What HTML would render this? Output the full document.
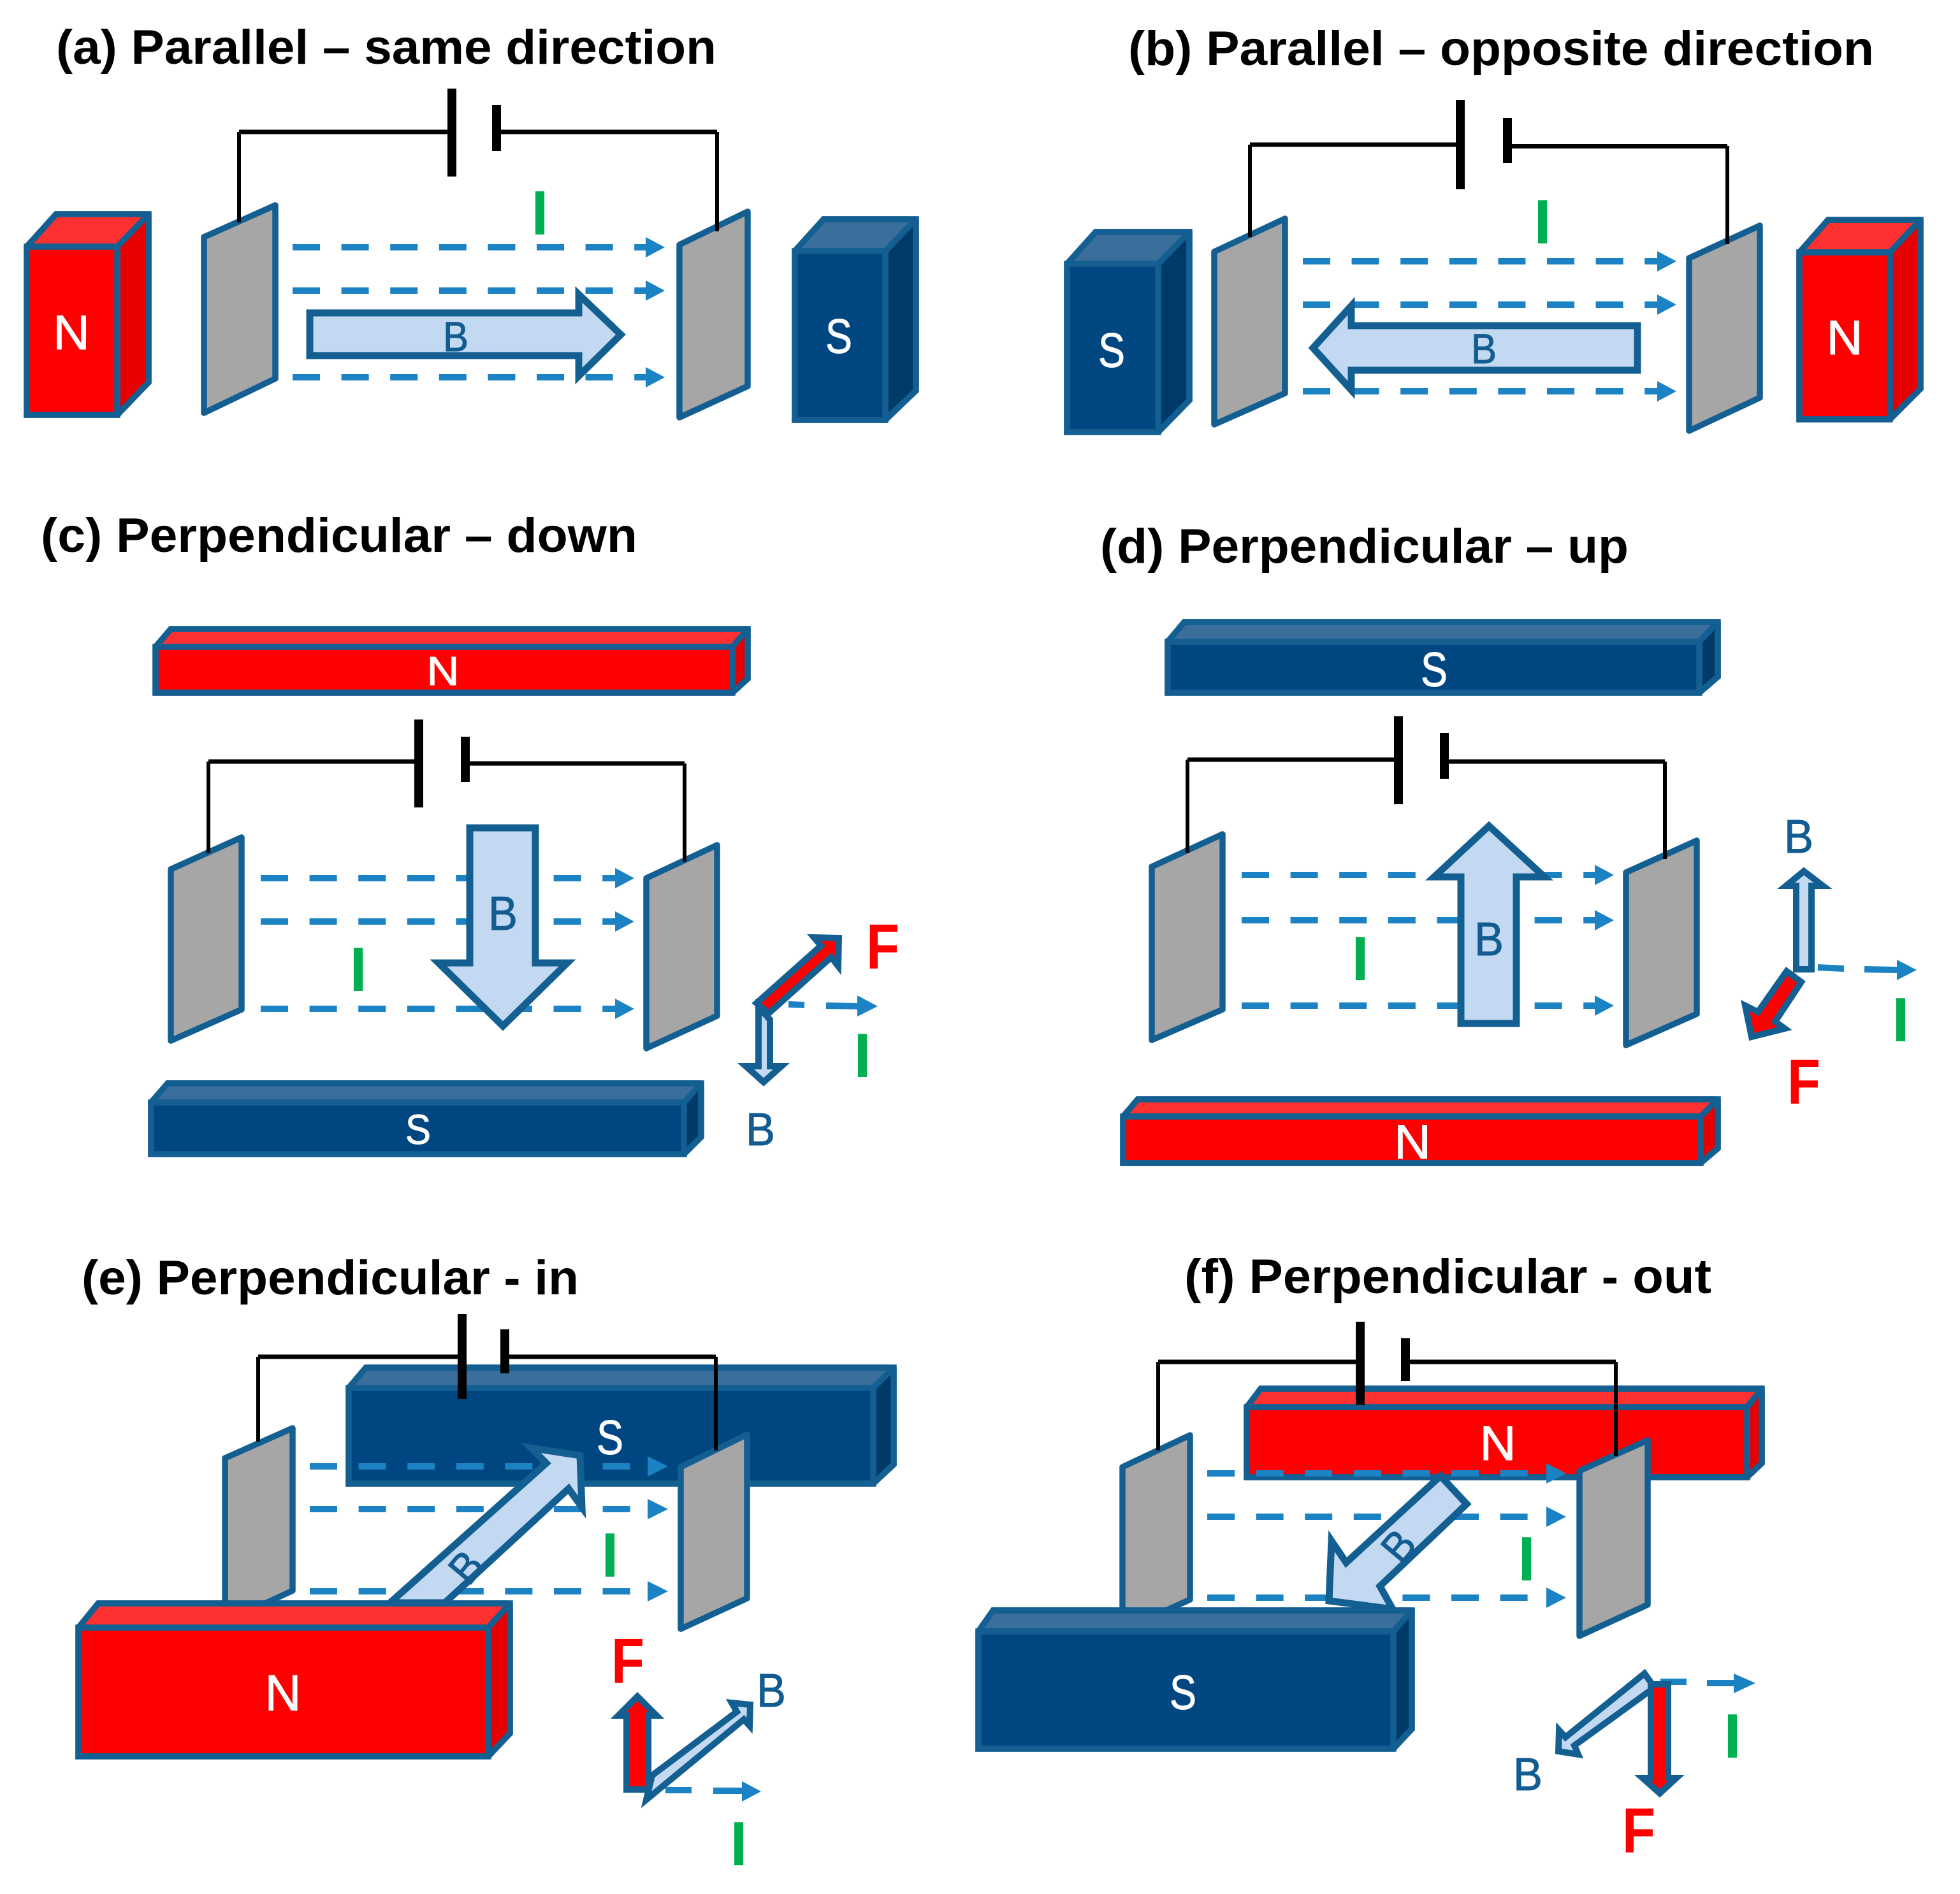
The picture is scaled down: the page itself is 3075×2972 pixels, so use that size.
<!DOCTYPE html>
<html><head><meta charset="utf-8"><title>Magnetic force diagram</title>
<style>
html,body{margin:0;padding:0;background:#fff}
svg{display:block}
text{font-family:"Liberation Sans",sans-serif}
.t{font-size:76px;font-weight:bold;fill:#000}
.w{fill:#fff;stroke:#fff;stroke-width:1;text-anchor:middle}
.b{fill:#135c92;stroke:#135c92;stroke-width:1;text-anchor:middle}
.f{fill:#ff0000;text-anchor:middle;font-weight:bold;font-size:100px}
.i{fill:#00b050;text-anchor:middle;font-weight:bold;font-size:98px}
polygon,rect{stroke:#135f92;stroke-width:9.500;stroke-linejoin:miter;stroke-miterlimit:10}
.rf{fill:#ff0000}.rt{fill:#ff3030;stroke-miterlimit:1.500}.rs{fill:#e80000;stroke-miterlimit:1.500}
.uf{fill:#004680}.ut{fill:#396f9a;stroke-miterlimit:1.500}.us{fill:#003a68;stroke-miterlimit:1.500}
.sil{fill:none}
.pl{fill:#a6a6a6;stroke-width:9.500;stroke-linejoin:round}
.ar{fill:#c2d9f1}
.big{stroke-width:11}
.sm{stroke-width:10;stroke-miterlimit:5}
.ah{fill:#1b82c4;stroke:none}
.d{stroke:#1b82c4;stroke-width:10;stroke-dasharray:43 33.6;fill:none}
.d2{stroke:#1b82c4;stroke-width:10;fill:none}
.wi{stroke:#000;stroke-width:6;fill:none}
.wh{stroke:#000;stroke-width:7;fill:none}
.c{stroke:#000;stroke-width:14;fill:none}
</style></head><body>
<svg xmlns="http://www.w3.org/2000/svg" width="3075" height="2972" viewBox="0 0 3075 2972">
<rect x="0" y="0" width="3075" height="2972" style="fill:#fff;stroke:none"/>

<!-- (a) -->
<text class="t" x="88" y="100" textLength="1036" lengthAdjust="spacingAndGlyphs">(a) Parallel – same direction</text>
<polygon class="rt" points="42,387 88,336 233,336 184,387"/>
<polygon class="rs" points="184,387 233,336 233,600 184,651"/>
<rect class="rf" x="42" y="387" width="142" height="264"/>
<polygon class="sil" points="42,387 88,336 233,336 233,600 184,651 42,651"/>
<text class="w" x="112" y="548" font-size="76" textLength="58" lengthAdjust="spacingAndGlyphs">N</text>
<polygon class="pl" points="320,372 432,322 432,594 320,648"/>
<polygon class="pl" points="1066,384 1173,332 1173,606 1066,655"/>
<path class="wi" d="M375,207V349M1125,207V363"/>
<path class="wh" d="M375,207H709M779,207H1125"/>
<path class="c" d="M709,139V277M779,165V237"/>
<text class="i" x="847" y="368">I</text>
<path class="d" d="M459,388H1014M459,456H1014M459,592H1014"/>
<polygon class="ah" points="1013,372 1043,388 1013,404"/>
<polygon class="ah" points="1013,440 1043,456 1013,472"/>
<polygon class="ah" points="1013,576 1043,592 1013,608"/>
<polygon class="ar big" points="486,491 908,491 908,462 974,525 908,590 908,558 486,558"/>
<text class="b" x="715" y="551" font-size="66" textLength="40" lengthAdjust="spacingAndGlyphs">B</text>
<polygon class="ut" points="1247,394 1292,344 1437,344 1389,394"/>
<polygon class="us" points="1389,394 1437,344 1437,613 1389,659"/>
<rect class="uf" x="1247" y="394" width="142" height="265"/>
<polygon class="sil" points="1247,394 1292,344 1437,344 1437,613 1389,659 1247,659"/>
<text class="w" x="1316" y="554" font-size="76" textLength="42" lengthAdjust="spacingAndGlyphs">S</text>

<!-- (b) -->
<text class="t" x="1770" y="102" textLength="1170" lengthAdjust="spacingAndGlyphs">(b) Parallel – opposite direction</text>
<polygon class="ut" points="1674,414 1719,364 1866,364 1817,414"/>
<polygon class="us" points="1817,414 1866,364 1866,628 1817,678"/>
<rect class="uf" x="1674" y="414" width="143" height="264"/>
<polygon class="sil" points="1674,414 1719,364 1866,364 1866,628 1817,678 1674,678"/>
<text class="w" x="1744" y="576" font-size="76" textLength="42" lengthAdjust="spacingAndGlyphs">S</text>
<polygon class="pl" points="1905,395 2016,343 2016,617 1905,666"/>
<polygon class="pl" points="2650,405 2761,354 2761,624 2650,676"/>
<path class="wi" d="M1961,227V372M2710,229V383"/>
<path class="wh" d="M1961,227H2291M2365,229.500H2710"/>
<path class="c" d="M2291,157V297M2365,185V256"/>
<text class="i" x="2420" y="382">I</text>
<path class="d" d="M2044,410H2601M2044,478H2601M2044,614H2601"/>
<polygon class="ah" points="2600,394 2630,410 2600,426"/>
<polygon class="ah" points="2600,462 2630,478 2600,494"/>
<polygon class="ah" points="2600,598 2630,614 2600,630"/>
<polygon class="ar big" points="2569,511 2120,511 2120,480 2060,546 2120,612 2120,581 2569,581"/>
<text class="b" x="2328" y="570" font-size="66" textLength="40" lengthAdjust="spacingAndGlyphs">B</text>
<polygon class="rt" points="2823,396 2868,345 3013,345 2965,396"/>
<polygon class="rs" points="2965,396 3013,345 3013,610 2965,658"/>
<rect class="rf" x="2823" y="396" width="142" height="262"/>
<polygon class="sil" points="2823,396 2868,345 3013,345 3013,610 2965,658 2823,658"/>
<text class="w" x="2894" y="556" font-size="76" textLength="57" lengthAdjust="spacingAndGlyphs">N</text>

<!-- (c) -->
<text class="t" x="64" y="866" textLength="936" lengthAdjust="spacingAndGlyphs">(c) Perpendicular – down</text>
<polygon class="rt" points="244,1015 268,987 1173,987 1149,1015"/>
<polygon class="rs" points="1149,1015 1173,987 1173,1065 1149,1087"/>
<rect class="rf" x="244" y="1015" width="905" height="72"/>
<polygon class="sil" points="244,1015 268,987 1173,987 1173,1065 1149,1087 244,1087"/>
<text class="w" x="695" y="1075" font-size="64" textLength="51" lengthAdjust="spacingAndGlyphs">N</text>
<polygon class="pl" points="268,1364 379,1314 379,1584 268,1633"/>
<polygon class="pl" points="1014,1378 1125,1326 1125,1594 1014,1645"/>
<path class="wi" d="M327,1195V1338M1074,1198V1352"/>
<path class="wh" d="M327,1195H657M730,1198H1074"/>
<path class="c" d="M657,1129V1267M730,1156V1227"/>
<path class="d" d="M409,1378H966M409,1446H966M409,1583H966"/>
<polygon class="ah" points="965,1362 995,1378 965,1394"/>
<polygon class="ah" points="965,1430 995,1446 965,1462"/>
<polygon class="ah" points="965,1567 995,1583 965,1599"/>
<text class="i" x="562" y="1555">I</text>
<polygon class="ar big" points="737,1299 840,1299 840,1511 890,1511 789,1610 688,1511 737,1511"/>
<text class="b" x="789" y="1459" font-size="75" textLength="46" lengthAdjust="spacingAndGlyphs">B</text>
<polygon class="ut" points="237,1730 263,1700 1100,1700 1073,1730"/>
<polygon class="us" points="1073,1730 1100,1700 1100,1784 1073,1811"/>
<rect class="uf" x="237" y="1730" width="836" height="81"/>
<polygon class="sil" points="237,1730 263,1700 1100,1700 1100,1784 1073,1811 237,1811"/>
<text class="w" x="656" y="1795" font-size="66" textLength="40" lengthAdjust="spacingAndGlyphs">S</text>
<path class="d2" d="M1237,1576L1262,1577M1296,1578L1346,1579"/>
<polygon class="ah" points="1345,1562 1377,1579 1345,1595"/>
<polygon class="ar sm" points="1190,1580 1208,1600 1208,1673 1226,1673 1198,1698 1170,1673 1190,1673"/>
<polygon class="rf sm" points="1187,1574 1288,1484 1277,1471 1316,1472 1315,1516 1304,1502 1206,1590"/>
<text class="f" x="1385" y="1520" textLength="52" lengthAdjust="spacingAndGlyphs">F</text>
<text class="i" x="1353" y="1690">I</text>
<text class="b" x="1193" y="1797" font-size="72" textLength="46" lengthAdjust="spacingAndGlyphs">B</text>

<!-- (d) -->
<text class="t" x="1726" y="883" textLength="829" lengthAdjust="spacingAndGlyphs">(d) Perpendicular – up</text>
<polygon class="ut" points="1832,1007 1858,976 2695,976 2666,1007"/>
<polygon class="us" points="2666,1007 2695,976 2695,1062 2666,1087"/>
<rect class="uf" x="1832" y="1007" width="834" height="80"/>
<polygon class="sil" points="1832,1007 1858,976 2695,976 2695,1062 2666,1087 1832,1087"/>
<text class="w" x="2250" y="1077" font-size="76" textLength="42" lengthAdjust="spacingAndGlyphs">S</text>
<polygon class="pl" points="1807,1360 1918,1309 1918,1584 1807,1632"/>
<polygon class="pl" points="2551,1369 2662,1319 2662,1591 2551,1640"/>
<path class="wi" d="M1863,1192V1338M2612,1195V1348"/>
<path class="wh" d="M1863,1192H2194M2266,1195H2612"/>
<path class="c" d="M2194,1124V1262M2266,1150V1222"/>
<path class="d" d="M1948,1373H2503M1948,1444H2503M1948,1578H2503"/>
<polygon class="ah" points="2502,1357 2532,1373 2502,1389"/>
<polygon class="ah" points="2502,1428 2532,1444 2502,1460"/>
<polygon class="ah" points="2502,1562 2532,1578 2502,1594"/>
<text class="i" x="2134" y="1538">I</text>
<polygon class="ar big" points="2292,1606 2292,1376 2250,1376 2336,1296 2423,1376 2379,1376 2379,1606"/>
<text class="b" x="2336" y="1499" font-size="74" textLength="46" lengthAdjust="spacingAndGlyphs">B</text>
<polygon class="rt" points="1762,1752 1785,1725 2695,1725 2668,1752"/>
<polygon class="rs" points="2668,1752 2695,1725 2695,1802 2668,1825"/>
<rect class="rf" x="1762" y="1752" width="906" height="73"/>
<polygon class="sil" points="1762,1752 1785,1725 2695,1725 2695,1802 2668,1825 1762,1825"/>
<text class="w" x="2216" y="1818" font-size="76" textLength="58" lengthAdjust="spacingAndGlyphs">N</text>
<path class="d2" d="M2852,1518L2893,1520M2925,1521L2976,1522"/>
<polygon class="ah" points="2976,1506 3007,1522 2976,1538"/>
<polygon class="ar sm" points="2818,1521 2818,1390 2802,1390 2830,1367 2860,1390 2842,1390 2842,1521"/>
<polygon class="rf sm" points="2803,1524 2826,1541 2785,1603 2800,1614 2748,1627 2738,1578 2758,1588"/>
<text class="b" x="2822" y="1338" font-size="74" textLength="46" lengthAdjust="spacingAndGlyphs">B</text>
<text class="f" x="2830" y="1732" textLength="52" lengthAdjust="spacingAndGlyphs">F</text>
<text class="i" x="2982" y="1634">I</text>

<!-- (e) -->
<text class="t" x="128" y="2031" textLength="780" lengthAdjust="spacingAndGlyphs">(e) Perpendicular - in</text>
<polygon class="ut" points="547,2178 574,2146 1402,2146 1370,2178"/>
<polygon class="us" points="1370,2178 1402,2146 1402,2298 1370,2328"/>
<rect class="uf" x="547" y="2178" width="823" height="150"/>
<polygon class="sil" points="547,2178 574,2146 1402,2146 1402,2298 1370,2328 547,2328"/>
<text class="w" x="957" y="2282" font-size="76" textLength="42" lengthAdjust="spacingAndGlyphs">S</text>
<polygon class="pl" points="353,2288 459,2241 459,2496 353,2545"/>
<path class="d" d="M486,2301H1017M486,2368H1017M486,2497H1017"/>
<polygon class="ah" points="1016,2285 1048,2301 1016,2317"/>
<polygon class="ah" points="1016,2352 1048,2368 1016,2384"/>
<polygon class="ah" points="1016,2481 1048,2497 1016,2513"/>
<polygon class="pl" points="1068,2302 1172,2251 1172,2508 1068,2556"/>
<path class="wi" d="M405,2129V2262M1123,2129V2276"/>
<path class="wh" d="M405,2129H725M792,2129H1123"/>
<path class="c" d="M725,2062V2195M792,2086V2155"/>
<polygon class="ar big" points="612,2515 857,2296 833,2272 910,2284 913,2365 892,2336 698,2515"/>
<text class="b" x="0" y="0" font-size="68" textLength="42" lengthAdjust="spacingAndGlyphs" transform="translate(749,2474) rotate(-50)">B</text>
<text class="i" x="957" y="2474">I</text>
<polygon class="rt" points="123,2554 154,2516 800,2516 766,2554"/>
<polygon class="rs" points="766,2554 800,2516 800,2720 766,2756"/>
<rect class="rf" x="123" y="2554" width="643" height="202"/>
<polygon class="sil" points="123,2554 154,2516 800,2516 800,2720 766,2756 123,2756"/>
<text class="w" x="444" y="2684" font-size="80" textLength="57" lengthAdjust="spacingAndGlyphs">N</text>
<path class="d2" d="M1044,2809H1085M1119,2810H1165"/>
<polygon class="ah" points="1164,2795 1194,2811 1164,2827"/>
<polygon class="rf sm" points="983,2808 983,2692 970,2692 1000,2662 1030,2692 1017,2692 1017,2808"/>
<polygon class="ar sm" points="1023,2786 1156,2686 1148,2672 1177,2675 1176,2708 1167,2698 1014,2824"/>
<text class="f" x="985" y="2641" textLength="52" lengthAdjust="spacingAndGlyphs">F</text>
<text class="b" x="1210" y="2678" font-size="74" textLength="46" lengthAdjust="spacingAndGlyphs">B</text>
<text class="i" x="1159" y="2927">I</text>

<!-- (f) -->
<text class="t" x="1858" y="2029" textLength="827" lengthAdjust="spacingAndGlyphs">(f) Perpendicular - out</text>
<polygon class="rt" points="1956,2208 1978,2179 2764,2179 2741,2208"/>
<polygon class="rs" points="2741,2208 2764,2179 2764,2296 2741,2318"/>
<rect class="rf" x="1956" y="2208" width="785" height="110"/>
<polygon class="sil" points="1956,2208 1978,2179 2764,2179 2764,2296 2741,2318 1956,2318"/>
<text class="w" x="2350" y="2291" font-size="76" textLength="57" lengthAdjust="spacingAndGlyphs">N</text>
<polygon class="pl" points="1761,2302 1867,2252 1867,2510 1761,2558"/>
<path class="d" d="M1894,2312H2427M1894,2380H2427M1894,2507H2427"/>
<polygon class="ah" points="2426,2296 2457,2312 2426,2328"/>
<polygon class="ah" points="2426,2364 2457,2380 2426,2396"/>
<polygon class="ah" points="2426,2491 2457,2507 2426,2523"/>
<polygon class="pl" points="2478,2308 2585,2260 2585,2518 2478,2567"/>
<path class="wi" d="M1817,2137V2276M2535,2137V2285"/>
<path class="wh" d="M1817,2137H2134M2205,2137H2535"/>
<path class="c" d="M2134,2074V2205M2205,2100V2167"/>
<polygon class="ar big" points="2260,2316 2301,2360 2165,2489 2185,2525 2085,2512 2089,2418 2112,2452"/>
<text class="b" x="0" y="0" font-size="68" textLength="42" lengthAdjust="spacingAndGlyphs" transform="translate(2212,2441) rotate(-50)">B</text>
<text class="i" x="2395" y="2480">I</text>
<polygon class="ut" points="1535,2560 1558,2527 2215,2527 2186,2560"/>
<polygon class="us" points="2186,2560 2215,2527 2215,2713 2186,2744"/>
<rect class="uf" x="1535" y="2560" width="651" height="184"/>
<polygon class="sil" points="1535,2560 1558,2527 2215,2527 2215,2713 2186,2744 1535,2744"/>
<text class="w" x="1856" y="2682" font-size="76" textLength="42" lengthAdjust="spacingAndGlyphs">S</text>
<path class="d2" d="M2605,2639H2646M2678,2641H2721"/>
<polygon class="ah" points="2720,2626 2754,2641 2720,2657"/>
<polygon class="ar sm" points="2580,2626 2590,2640 2590,2652 2470,2739 2476,2753 2445,2748 2446,2715 2456,2726"/>
<polygon class="rf sm" points="2590,2643 2617,2643 2617,2790 2630,2790 2604,2814 2577,2790 2590,2790"/>
<text class="i" x="2718" y="2758">I</text>
<text class="b" x="2397" y="2809" font-size="72" textLength="46" lengthAdjust="spacingAndGlyphs">B</text>
<text class="f" x="2571" y="2907" textLength="52" lengthAdjust="spacingAndGlyphs">F</text>
</svg>
</body></html>
